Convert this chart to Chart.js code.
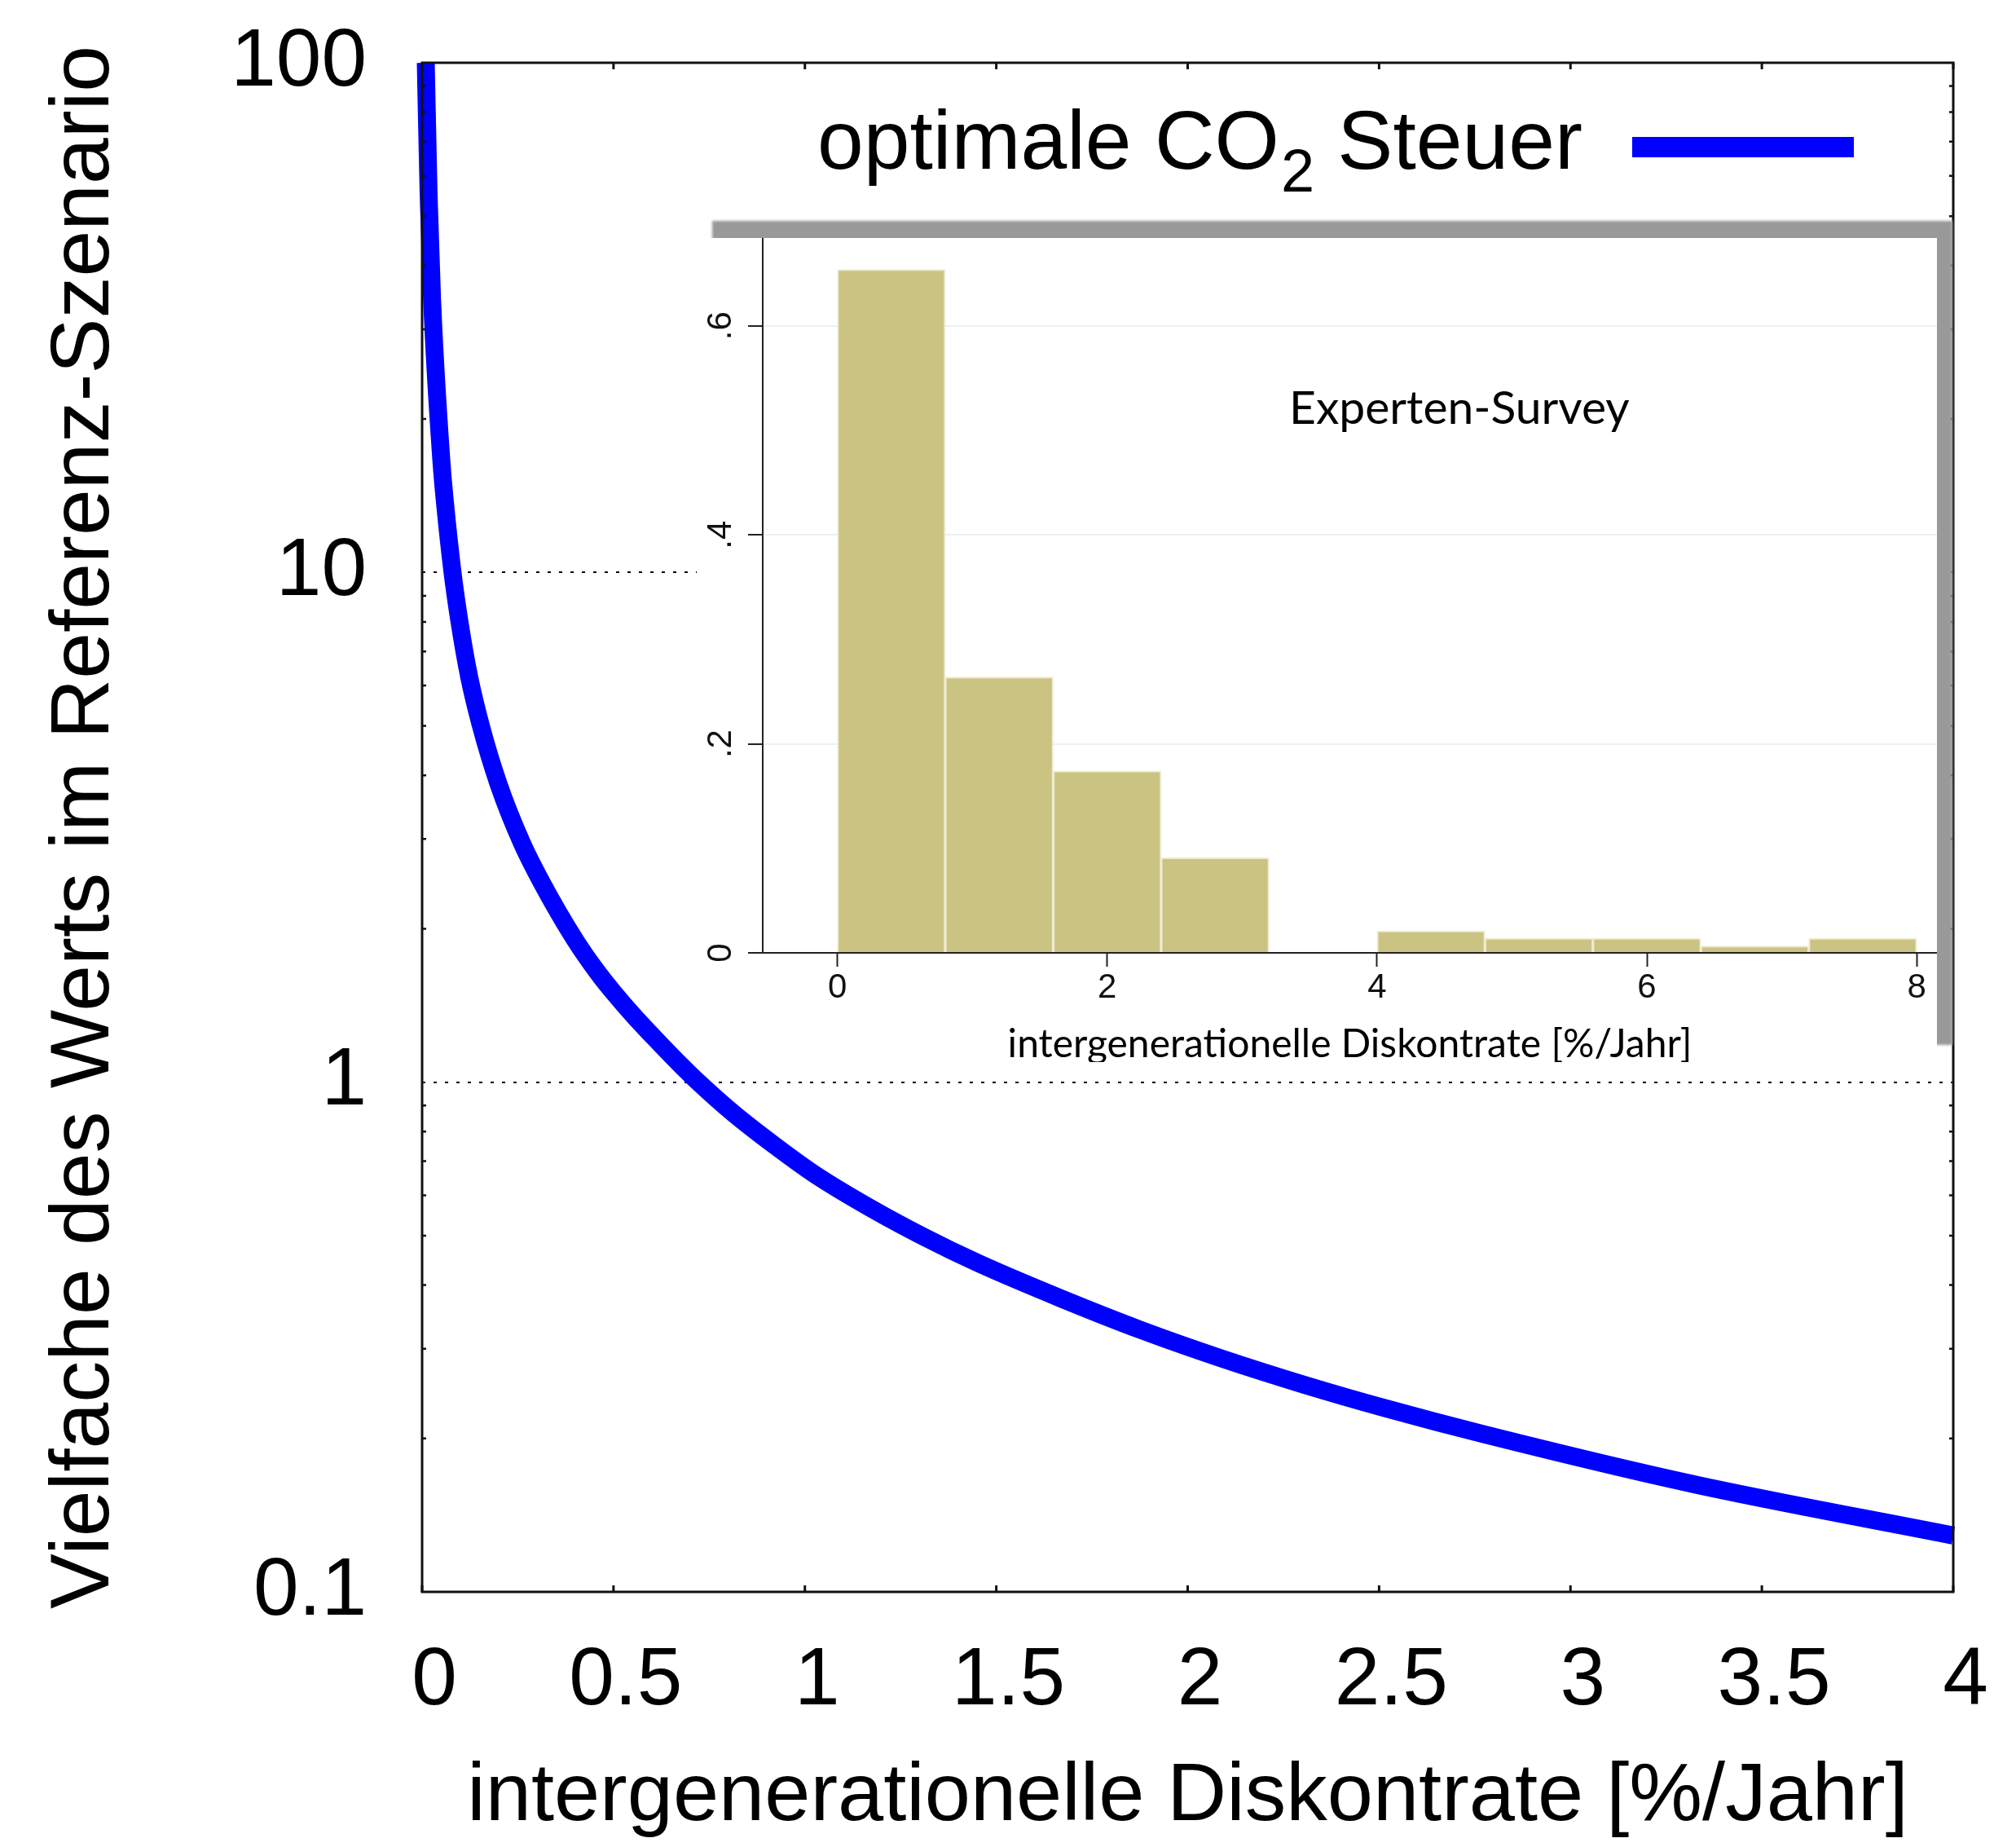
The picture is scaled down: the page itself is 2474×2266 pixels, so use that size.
<!DOCTYPE html>
<html>
<head>
<meta charset="utf-8">
<script src="https://cdn.jsdelivr.net/npm/chart.js@4"></script>
<style>
  html, body { margin: 0; padding: 0; background: #fff; }
  #wrap { position: relative; width: 2474px; height: 2266px; overflow: hidden; }
  #main { position: absolute; left: 0; top: 0; }
  #insetBox {
    position: absolute; left: 855px; top: 292px; width: 1522px; height: 1011px;
    overflow: hidden; background: #fff; box-shadow: 19px -21px 3px #999;
  }
</style>
</head>
<body>
<div id="wrap">
  <canvas id="main" width="2474" height="2266"></canvas>
  <div id="insetBox"><canvas id="inset" width="1522" height="1040"></canvas></div>
</div>
<script>
// main curve: optimal CO2 tax relative to reference scenario
const rate = [0.0096, 0.017, 0.026, 0.0505, 0.0596, 0.0795, 0.0979, 0.1228, 0.1533, 0.1994,
  0.2612, 0.313, 0.4, 0.458, 0.5, 0.556, 0.6003, 0.671, 0.7216, 0.813,
  0.92, 1.026, 1.168, 1.31, 1.452, 1.665, 1.878, 2.09, 2.303, 2.516,
  2.772, 3.323, 4.0];
const taxMultiple = [100, 55.1, 34.4, 16.5, 13.75, 10, 7.98, 6.25, 5.01, 3.85,
  2.94, 2.46, 1.90, 1.644, 1.50, 1.341, 1.236, 1.089, 1.0, 0.869,
  0.752, 0.659, 0.568, 0.4975, 0.4417, 0.3775, 0.3264, 0.2868, 0.2551, 0.2293,
  0.204, 0.1626, 0.129];

const xTicks = [0, 0.5, 1, 1.5, 2, 2.5, 3, 3.5, 4];
const yTicks = [0.1, 1, 10, 100];

// inset histogram: expert survey
const binCenters = [0.4, 1.2, 2.0, 2.8, 3.6, 4.4, 5.2, 6.0, 6.8, 7.6];
const binDensity = [0.654, 0.264, 0.174, 0.091, 0, 0.021, 0.014, 0.014, 0.0066, 0.014];
const insetXTicks = [0, 2, 4, 6, 8];
const insetYTicks = [0, 0.2, 0.4, 0.6];
const insetYLabels = ['0', '.2', '.4', '.6'];

const xTitle = 'intergenerationelle Diskontrate [%/Jahr]';
const yTitle = 'Vielfache des Werts im Referenz-Szenario';
const legendParts = ['optimale CO', '2', ' Steuer'];
const surveyLabel = 'Experten-Survey';

const blue = '#0000ff';
const sans = 'Liberation Sans';

const frame = {
  id: 'frame',
  afterDatasetsDraw(chart) {
    const { ctx, chartArea: a, scales: { x, y } } = chart;
    ctx.save();
    ctx.strokeStyle = '#111';
    ctx.lineWidth = 3;
    ctx.strokeRect(a.left, a.top, a.right - a.left, a.bottom - a.top);
    x.ticks.forEach(t => {
      const px = x.getPixelForValue(t.value);
      ctx.beginPath();
      ctx.moveTo(px, a.bottom); ctx.lineTo(px, a.bottom - 8);
      ctx.moveTo(px, a.top); ctx.lineTo(px, a.top + 8);
      ctx.stroke();
    });
    ctx.lineWidth = 2.5;
    [0.1, 1, 10].forEach(d => {
      for (let k = 2; k <= 9; k++) {
        const py = y.getPixelForValue(d * k);
        ctx.beginPath();
        ctx.moveTo(a.left, py); ctx.lineTo(a.left + 5, py);
        ctx.moveTo(a.right, py); ctx.lineTo(a.right - 5, py);
        ctx.stroke();
      }
    });
    ctx.restore();
  },
  afterDraw(chart) {
    const { ctx, chartArea: a } = chart;
    ctx.save();
    ctx.fillStyle = '#000';
    ctx.textBaseline = 'alphabetic';
    const base = a.top + 130;
    let x = a.left + 485;
    ctx.font = '102px "' + sans + '"';
    ctx.fillText(legendParts[0], x, base);
    x += ctx.measureText(legendParts[0]).width + 2;
    ctx.font = '74px "' + sans + '"';
    ctx.fillText(legendParts[1], x, base + 28);
    x += ctx.measureText(legendParts[1]).width;
    ctx.font = '102px "' + sans + '"';
    ctx.fillText(legendParts[2], x, base);
    ctx.fillStyle = blue;
    ctx.fillRect(a.right - 394, a.top + 91, 272, 25);
    ctx.restore();
  }
};

new Chart(document.getElementById('main'), {
  type: 'line',
  data: {
    datasets: [{
      label: 'optimale CO2 Steuer',
      data: rate.map((r, i) => ({ x: r, y: taxMultiple[i] })),
      borderColor: blue,
      borderWidth: 22,
      pointRadius: 0,
      fill: false,
      cubicInterpolationMode: 'monotone',
      clip: { left: 20, right: 20, top: 0, bottom: 0 }
    }]
  },
  options: {
    responsive: false,
    animation: false,
    layout: { padding: { top: 77, right: 77, bottom: 0, left: 0 } },
    plugins: { legend: { display: false }, tooltip: { enabled: false } },
    scales: {
      x: {
        type: 'linear', min: 0, max: 4,
        afterBuildTicks: s => { s.ticks = xTicks.map(v => ({ value: v })); },
        afterFit: s => { s.height = 313; },
        grid: { display: false },
        border: { display: false },
        ticks: {
          font: { family: sans, size: 100 }, color: '#000', padding: 42,
          labelOffset: 15, maxRotation: 0, autoSkip: false,
          callback: v => String(v)
        },
        title: {
          display: true, text: xTitle, color: '#000',
          font: { family: sans, size: 101 }, padding: { top: 0, bottom: 0 }
        }
      },
      y: {
        type: 'logarithmic', min: 0.1, max: 100,
        afterBuildTicks: s => { s.ticks = yTicks.map(v => ({ value: v })); },
        afterFit: s => { s.width = 518; s.paddingTop = 0; s.paddingBottom = 0; },
        grid: {
          drawTicks: false, lineWidth: 2,
          color: c => (c.tick && (c.tick.value === 10 || c.tick.value === 1)) ? '#000' : 'rgba(0,0,0,0)'
        },
        border: { display: false, dash: [4, 10] },
        ticks: {
          font: { family: sans, size: 100 }, color: '#000', padding: 68,
          autoSkip: false, callback: v => String(v)
        },
        title: {
          display: true, text: yTitle, color: '#000',
          font: { family: sans, size: 102 }, padding: { top: 44, bottom: 0 }
        }
      }
    }
  },
  plugins: [frame]
});

const insetText = {
  id: 'insetText',
  afterDraw(chart) {
    const { ctx, scales: { x, y } } = chart;
    ctx.save();
    ctx.fillStyle = '#111';
    ctx.font = '42px "' + sans + '"';
    ctx.textAlign = 'center';
    ctx.textBaseline = 'middle';
    insetYTicks.forEach((v, i) => {
      ctx.save();
      ctx.translate(30, y.getPixelForValue(v));
      ctx.rotate(-Math.PI / 2);
      ctx.fillText(insetYLabels[i], 0, 0);
      ctx.restore();
    });
    ctx.fillStyle = '#000';
    ctx.font = '57px Lato';
    ctx.textBaseline = 'alphabetic';
    ctx.fillText(surveyLabel, x.getPixelForValue(4.61), y.getPixelForValue(0.506));
    ctx.restore();
  }
};

new Chart(document.getElementById('inset'), {
  type: 'bar',
  data: {
    datasets: [{
      data: binCenters.map((c, i) => ({ x: c, y: binDensity[i] })),
      backgroundColor: '#cbc382',
      borderColor: 'rgba(236,233,205,0.9)',
      borderWidth: 2,
      barPercentage: 1,
      categoryPercentage: 1,
      grouped: false
    }]
  },
  options: {
    responsive: false,
    animation: false,
    layout: { padding: 0 },
    plugins: { legend: { display: false }, tooltip: { enabled: false } },
    scales: {
      x: {
        type: 'linear', min: -0.553, max: 8.15, offset: false,
        afterBuildTicks: s => { s.ticks = insetXTicks.map(v => ({ value: v })); },
        afterFit: s => { s.height = 163; },
        grid: { drawOnChartArea: false, offset: false, tickLength: 17, tickColor: '#222', tickWidth: 2 },
        border: { color: '#222', width: 2 },
        ticks: { font: { family: sans, size: 42 }, color: '#111', padding: 1, maxRotation: 0, callback: v => String(v) },
        title: {
          display: true, text: xTitle, color: '#000',
          font: { family: 'Lato', size: 48 }, padding: { top: 0, bottom: 22 }
        }
      },
      y: {
        type: 'linear', min: 0, max: 0.684,
        afterBuildTicks: s => { s.ticks = insetYTicks.map(v => ({ value: v })); },
        afterFit: s => { s.width = 81; },
        grid: {
          lineWidth: 2, tickLength: 18, tickColor: '#222', tickWidth: 2,
          color: c => (c.tick && c.tick.value > 0) ? '#e9f1f2' : 'rgba(0,0,0,0)'
        },
        border: { color: '#222', width: 2 },
        ticks: { display: false }
      }
    }
  },
  plugins: [insetText]
});
</script>
</body>
</html>
